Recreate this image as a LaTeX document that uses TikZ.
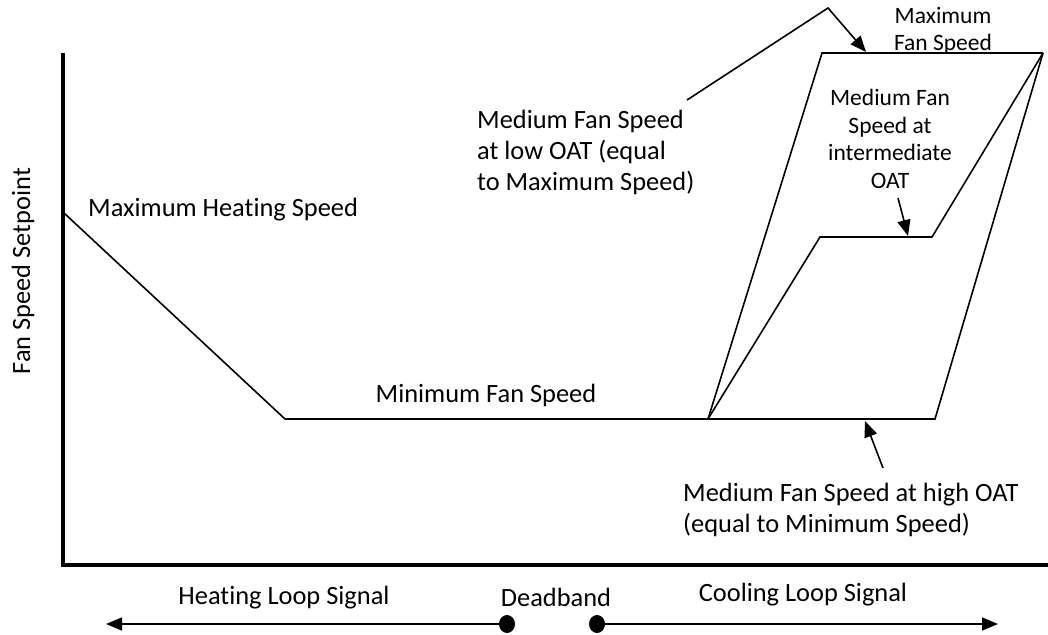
\documentclass[tikz,border=0pt]{standalone}
\usepackage{fontspec}
\setmainfont{Carlito}[RawFeature=-liga]
\usetikzlibrary{arrows.meta}
\tikzset{
  curve/.style={line width=1.6pt, line join=miter},
  axis/.style={line width=3.5pt},
  callout/.style={line width=1.6pt, -{Triangle[length=16pt,width=13pt]}},
  txt/.style={inner sep=0pt, font=\fontsize{26.4}{31}\selectfont},
  small/.style={inner sep=0pt, font=\fontsize{23.5}{27.5}\selectfont, align=center},
  dot/.style={ellipse, fill=black, minimum width=16pt, minimum height=18pt, inner sep=0pt},
}
\usetikzlibrary{shapes.geometric}
\begin{document}
\begin{tikzpicture}[x=1pt, y=-1pt]
\useasboundingbox (0,0) rectangle (1048,634);

% axes
\coordinate (ytop) at (63,53);
\coordinate (origin) at (63,565);
\coordinate (xend) at (1048,565);
\draw[axis, line join=miter] (ytop) -- (origin) -- (xend);

% heating branch and minimum speed
\coordinate (hmax) at (64,213);
\coordinate (hmin) at (285,419);
\coordinate (cstart) at (708,419);
\draw[curve] (hmax) -- (hmin) -- (cstart);

% cooling branches
\coordinate (maxL) at (822,53);
\coordinate (maxR) at (1043,53);
\coordinate (midL) at (820,237);
\coordinate (midR) at (932,237);
\coordinate (lowR) at (935,419);
\draw[curve] (cstart) -- (maxL) -- (maxR);
\draw[curve] (cstart) -- (midL) -- (midR) -- (maxR);
\draw[curve] (cstart) -- (lowR) -- (maxR);

% labels
\node[txt, rotate=90] (ylabel) at (23,271) {Fan Speed Setpoint};
\node[txt, anchor=west] (heatmax) at (88,210) {Maximum Heating Speed};
\node[txt] (minfan) at (486,395) {Minimum Fan Speed};
\node[txt, anchor=west, align=left] (lowoat) at (477,152)
  {Medium Fan Speed\\at low OAT (equal\\to Maximum Speed)};
\node[small] (maxfan) at (943,31) {Maximum\\Fan Speed};
\node[small] (midoat) at (890,139) {Medium Fan\\Speed at\\intermediate\\OAT};
\node[txt, anchor=west, align=left] (highoat) at (683,510)
  {Medium Fan Speed at high OAT\\(equal to Minimum Speed)};

% callouts
\coordinate (lowA) at (687,100);
\coordinate (lowB) at (828,8);
\coordinate (lowC) at (866,52);
\draw[callout, line join=miter] (lowA) -- (lowB) -- (lowC);
\coordinate (midA) at (898,198);
\coordinate (midB) at (908,236);
\draw[callout] (midA) -- (midB);
\coordinate (highA) at (883,468);
\coordinate (highB) at (865,421);
\draw[callout] (highA) -- (highB);

% loop signal scale
\node[txt] (heatsig) at (284,598) {Heating Loop Signal};
\node[txt] (dband) at (556,597) {Deadband};
\node[txt] (coolsig) at (803,595) {Cooling Loop Signal};
\node[dot] (dotL) at (507,624) {};
\node[dot] (dotR) at (597,624) {};
\coordinate (heatend) at (106,624);
\coordinate (coolend) at (998,624);
\draw[callout] (dotL.center) -- (heatend);
\draw[callout] (dotR.center) -- (coolend);
\end{tikzpicture}
\end{document}
